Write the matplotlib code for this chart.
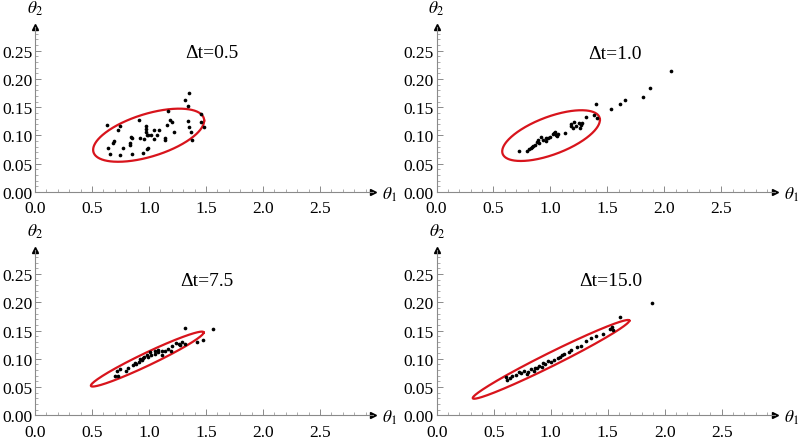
import numpy as np
import matplotlib
matplotlib.use("Agg")
import matplotlib.pyplot as plt
from matplotlib.ticker import MultipleLocator, FormatStrFormatter

plt.rcParams['font.family'] = ['Liberation Serif', 'DejaVu Serif']
plt.rcParams['mathtext.fontset'] = 'stix'

# ---------------- data ----------------
titles = ["\u0394t=0.5", "\u0394t=1.0", "\u0394t=7.5", "\u0394t=15.0"]

p1_x = [1.35, 1.32, 1.34, 1.46, 1.17, 0.91, 1.18, 1.20, 1.34, 1.46, 0.63, 0.75, 0.73, 0.97, 0.97, 1.16,
        1.35, 1.48, 0.97, 1.04, 1.09, 1.22, 1.37, 0.98, 0.99, 1.02, 1.07, 0.92, 0.96, 1.04, 1.14, 1.14,
        1.38, 0.84, 0.85, 0.69, 0.68, 0.83, 0.83, 0.64, 0.77, 0.99, 0.98, 0.66, 0.75, 0.85, 0.95]
p1_y = [0.175, 0.162, 0.153, 0.138, 0.143, 0.127, 0.127, 0.124, 0.125, 0.124, 0.119, 0.116, 0.110, 0.116,
        0.112, 0.119, 0.115, 0.115, 0.107, 0.109, 0.110, 0.106, 0.106, 0.101, 0.100, 0.101, 0.101, 0.095,
        0.094, 0.094, 0.095, 0.092, 0.092, 0.097, 0.095, 0.090, 0.087, 0.087, 0.084, 0.078, 0.077, 0.078,
        0.076, 0.067, 0.066, 0.067, 0.069]

p2_x = [0.72, 0.79, 0.81, 0.83, 0.85, 0.86, 0.88, 0.89, 0.92, 0.93, 0.96, 0.96, 0.98, 1.02, 1.03, 1.04,
        1.06, 1.07, 1.13, 1.18, 1.18, 1.21, 1.22, 1.25, 1.27, 1.28, 1.31, 1.38, 1.41, 1.40, 1.53, 1.61,
        1.65, 1.81, 1.87, 2.06, 0.84, 0.90, 1.00, 1.05, 1.20, 1.26]
p2_y = [0.073, 0.073, 0.076, 0.077, 0.081, 0.084, 0.089, 0.092, 0.098, 0.092, 0.095, 0.090, 0.096, 0.102,
        0.105, 0.106, 0.099, 0.103, 0.105, 0.116, 0.120, 0.123, 0.116, 0.122, 0.118, 0.122, 0.132, 0.137,
        0.131, 0.155, 0.147, 0.155, 0.163, 0.169, 0.184, 0.215, 0.079, 0.087, 0.098, 0.101, 0.113, 0.113]

p3_x = [1.32, 1.56, 1.42, 1.47, 1.32, 1.27, 1.24, 1.20, 1.17, 1.14, 1.11, 1.08, 1.05, 1.02, 0.99, 0.98,
        0.95, 0.92, 0.91, 0.88, 0.86, 0.82, 0.80, 0.75, 0.72, 0.73, 0.70, 1.05, 1.01, 1.08, 0.94, 1.26,
        1.29, 0.89, 0.96, 1.11, 1.19]
p3_y = [0.154, 0.152, 0.130, 0.134, 0.126, 0.124, 0.128, 0.122, 0.117, 0.114, 0.113, 0.112, 0.109, 0.106,
        0.103, 0.107, 0.101, 0.100, 0.095, 0.093, 0.089, 0.083, 0.079, 0.082, 0.079, 0.070, 0.069, 0.114,
        0.112, 0.116, 0.097, 0.126, 0.129, 0.091, 0.104, 0.107, 0.114]

p4_x = [0.61, 0.62, 0.66, 0.70, 0.74, 0.77, 0.79, 0.83, 0.85, 0.86, 0.92, 0.93, 0.95, 0.98, 1.00, 1.03,
        1.06, 1.10, 1.12, 1.16, 1.18, 1.23, 1.27, 1.31, 1.35, 1.40, 1.46, 1.52, 1.54, 1.55, 1.61, 1.89,
        0.64, 0.72, 0.80, 0.88, 0.90, 1.08]
p4_y = [0.067, 0.063, 0.070, 0.072, 0.074, 0.078, 0.073, 0.082, 0.079, 0.084, 0.086, 0.092, 0.091, 0.096,
        0.094, 0.098, 0.101, 0.106, 0.109, 0.112, 0.116, 0.120, 0.123, 0.132, 0.137, 0.141, 0.144, 0.153,
        0.156, 0.151, 0.174, 0.199, 0.066, 0.076, 0.077, 0.083, 0.087, 0.103]

# confidence ellipses: centre, half-extent in x and y, correlation
ell_cx = [0.997, 1.005, 0.985, 1.003]
ell_cy = [0.1005, 0.0998, 0.0995, 0.099]
ell_rx = [0.487, 0.4285, 0.495, 0.687]
ell_ry = [0.047, 0.0449, 0.0486, 0.0697]
ell_rho = [0.55, 0.62, 0.967, 0.982]

xs = [p1_x, p2_x, p3_x, p4_x]
ys = [p1_y, p2_y, p3_y, p4_y]

x_ticks = [0.0, 0.5, 1.0, 1.5, 2.0, 2.5]
y_ticks = [0.00, 0.05, 0.10, 0.15, 0.20, 0.25]

# ---------------- layout ----------------
W, H = 800, 439
fig = plt.figure(figsize=(W / 100, H / 100), dpi=100)

ax_w, ax_h = 338, 165
origins = [(35, 193), (436.5, 193), (35, 416.3), (436.7, 416.3)]
title_pos = [(1.55, 0.246), (1.57, 0.245), (1.51, 0.238), (1.53, 0.238)]

axis_col = '#8a8a8a'

for i in range(4):
    ox, oy = origins[i]
    ax = fig.add_axes([ox / W, (H - oy) / H, ax_w / W, ax_h / H])
    ax.set_xlim(0, 2.965)
    ax.set_ylim(0, 0.292)
    for s in ['top', 'right']:
        ax.spines[s].set_visible(False)
    for s in ['left', 'bottom']:
        ax.spines[s].set_color(axis_col)
        ax.spines[s].set_linewidth(0.8)
    ax.set_xticks(x_ticks)
    ax.set_yticks(y_ticks)
    ax.xaxis.set_major_formatter(FormatStrFormatter('%.1f'))
    ax.yaxis.set_major_formatter(FormatStrFormatter('%.2f'))
    ax.xaxis.set_minor_locator(MultipleLocator(0.1))
    ax.yaxis.set_minor_locator(MultipleLocator(0.01))
    ax.tick_params(which='major', direction='in', length=4, width=0.7, color=axis_col,
                   labelsize=12.5)
    ax.tick_params(axis='x', which='major', pad=6)
    ax.tick_params(axis='y', which='major', pad=2)
    ax.tick_params(which='minor', direction='in', length=2, width=0.5, color=axis_col)
    # arrows
    ax.plot(1, 0, marker='>', color='black', markersize=5, transform=ax.transAxes, clip_on=False)
    ax.plot(0, 1, marker='^', color='black', markersize=5, transform=ax.transAxes, clip_on=False)
    ax.text(1.028, -0.01, r'$\theta_1$', transform=ax.transAxes, fontsize=12.5, va='center', ha='left')
    ax.text(0.0, 1.06, r'$\theta_2$', transform=ax.transAxes, fontsize=12.5, va='bottom', ha='center')

    # ellipse
    t = np.linspace(0, 2 * np.pi, 400)
    phi = np.arccos(ell_rho[i])
    ex = ell_cx[i] + ell_rx[i] * np.cos(t)
    ey = ell_cy[i] + ell_ry[i] * np.cos(t - phi)
    ax.plot(ex, ey, color='#d8141c', lw=1.6, zorder=2)

    ax.scatter(xs[i], ys[i], s=7, color='black', zorder=3, linewidths=0)
    ax.text(title_pos[i][0], title_pos[i][1], titles[i], fontsize=14, ha='center', va='center')

fig.savefig('out.png', dpi=100)
